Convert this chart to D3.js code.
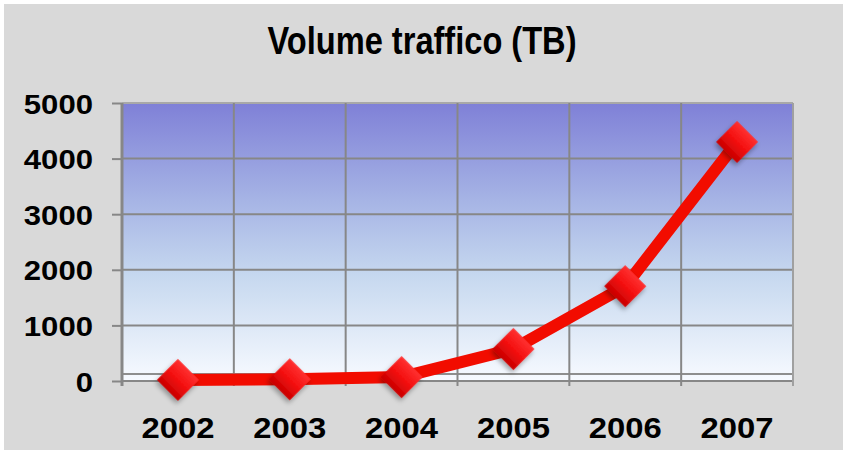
<!DOCTYPE html>
<html lang="it">
<head>
    <meta charset="UTF-8">
    <title>Volume traffico (TB)</title>
    <script src="https://cdn.jsdelivr.net/npm/d3@7/dist/d3.min.js"></script>
    <style>
        body { margin: 0; background: #fff; }
        text { font-family: "Liberation Sans", Arial, sans-serif; font-weight: bold; fill: #000; }
    </style>
</head>
<body>
<script>
    // dati del grafico
    const anni = ['2002', '2003', '2004', '2005', '2006', '2007'];
    const volumi = [20, 30, 70, 575, 1705, 4300];
    const yTicks = [0, 1000, 2000, 3000, 4000, 5000];
    const titolo = 'Volume traffico (TB)';

    const width = 843;
    const height = 453;

    const svg = d3.select('body')
        .append('svg')
        .attr('width', width)
        .attr('height', height);

    const defs = svg.append('defs');

    // sfondo del plot: dal blu-viola al bianco
    const bg = defs.append('linearGradient')
        .attr('id', 'bg').attr('x1', 0).attr('y1', 0).attr('x2', 0).attr('y2', 1);
    bg.append('stop').attr('offset', '0%').attr('stop-color', '#7f80d7');
    bg.append('stop').attr('offset', '35%').attr('stop-color', '#a6b4e5');
    bg.append('stop').attr('offset', '62%').attr('stop-color', '#c6d8ef');
    bg.append('stop').attr('offset', '100%').attr('stop-color', '#f7faff');

    // rombo rosso con sfumatura
    const rg = defs.append('linearGradient')
        .attr('id', 'rombo').attr('x1', 0).attr('y1', 0).attr('x2', 0).attr('y2', 1);
    rg.append('stop').attr('offset', '0%').attr('stop-color', '#ff3030');
    rg.append('stop').attr('offset', '50%').attr('stop-color', '#f41010');
    rg.append('stop').attr('offset', '100%').attr('stop-color', '#c80000');

    const ombra = defs.append('filter').attr('id', 'ombra')
        .attr('x', '-50%').attr('y', '-50%').attr('width', '200%').attr('height', '200%');
    ombra.append('feDropShadow')
        .attr('dx', 1).attr('dy', 3).attr('stdDeviation', 2.5)
        .attr('flood-color', '#000').attr('flood-opacity', 0.35);

    // cornice grigia
    svg.append('rect')
        .attr('x', 4).attr('y', 4)
        .attr('width', width - 4).attr('height', height - 7)
        .attr('fill', '#d9d9d9');

    const plot = { left: 122, right: 793, top: 103, bottom: 381 };

    const x = d3.scaleBand()
        .domain(anni)
        .range([plot.left, plot.right]);

    const y = d3.scaleLinear()
        .domain([0, 5000])
        .range([plot.bottom, plot.top]);

    // area del grafico
    svg.append('rect')
        .attr('x', plot.left).attr('y', plot.top)
        .attr('width', plot.right - plot.left)
        .attr('height', y(0) - plot.top)
        .attr('fill', 'url(#bg)');

    // griglia orizzontale
    svg.append('g')
        .selectAll('line')
        .data(yTicks)
        .join('line')
        .attr('x1', plot.left).attr('x2', plot.right)
        .attr('y1', d => y(d)).attr('y2', d => y(d))
        .attr('stroke', d => d === 5000 ? '#a8a8a8' : '#878787')
        .attr('stroke-width', 2);

    // bordo inferiore dell'area, poco sopra lo zero
    svg.append('line')
        .attr('x1', plot.left).attr('x2', plot.right)
        .attr('y1', y(0) - 7).attr('y2', y(0) - 7)
        .attr('stroke', '#8e8e8e')
        .attr('stroke-width', 2);

    // griglia verticale ai bordi delle categorie
    const bordi = anni.map(d => x(d)).concat([x.range()[1]]);
    svg.append('g')
        .selectAll('line')
        .data(bordi)
        .join('line')
        .attr('x1', d => d).attr('x2', d => d)
        .attr('y1', plot.top).attr('y2', y(0) + 5)
        .attr('stroke', (d, i) => i === bordi.length - 1 ? '#a0a0a0' : '#878787')
        .attr('stroke-width', (d, i) => i === 0 ? 3 : 2);

    // asse y
    const yAxis = d3.axisLeft(y)
        .tickValues(yTicks)
        .tickFormat(d3.format('d'))
        .tickSize(10)
        .tickPadding(19);

    svg.append('g')
        .attr('class', 'axis axis--y')
        .attr('transform', `translate(${plot.left}, 0)`)
        .call(yAxis)
        .call(g => g.select('.domain').remove())
        .call(g => g.selectAll('.tick line').attr('stroke', '#878787').attr('stroke-width', 2))
        .call(g => g.selectAll('.tick text')
            .attr('font-size', 28)
            .attr('font-family', '"Liberation Sans", Arial, sans-serif')
            .attr('textLength', d => String(d).length * 17.3)
            .attr('lengthAdjust', 'spacingAndGlyphs')
            .attr('dy', '0.36em'));

    // asse x (solo etichette)
    const xAxis = d3.axisBottom(x).tickSize(0).tickPadding(36);

    svg.append('g')
        .attr('class', 'axis axis--x')
        .attr('transform', `translate(0, ${y(0)})`)
        .call(xAxis)
        .call(g => g.select('.domain').remove())
        .call(g => g.selectAll('.tick text')
            .attr('font-size', 30)
            .attr('font-family', '"Liberation Sans", Arial, sans-serif')
            .attr('textLength', 73)
            .attr('lengthAdjust', 'spacingAndGlyphs'));

    // linea della serie
    const linea = d3.line()
        .x((d, i) => x(anni[i]) + x.bandwidth() / 2)
        .y(d => y(d));

    svg.append('path')
        .datum(volumi)
        .attr('d', linea)
        .attr('fill', 'none')
        .attr('stroke', '#f20c00')
        .attr('stroke-width', 12)
        .attr('stroke-linejoin', 'round');

    // marcatori a rombo
    const rombo = d3.symbol().type(d3.symbolSquare).size(880);

    svg.append('g')
        .selectAll('path')
        .data(volumi)
        .join('path')
        .attr('d', rombo)
        .attr('transform', (d, i) => `translate(${x(anni[i]) + x.bandwidth() / 2}, ${y(d)}) rotate(45)`)
        .attr('fill', 'url(#rombo)')
        .attr('filter', 'url(#ombra)');

    // titolo
    svg.append('text')
        .attr('x', 422)
        .attr('y', 54)
        .attr('text-anchor', 'middle')
        .attr('font-family', '"Liberation Sans Narrow", "Liberation Sans", Arial, sans-serif')
        .attr('font-size', 39)
        .attr('textLength', 309)
        .attr('lengthAdjust', 'spacingAndGlyphs')
        .text(titolo);
</script>
</body>
</html>
